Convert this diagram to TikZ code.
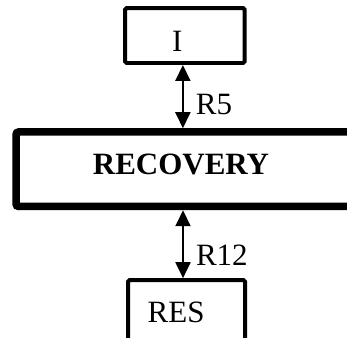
\documentclass[tikz,border=0pt]{standalone}
\usepackage{fontspec}
\setmainfont{Liberation Serif}
\usetikzlibrary{arrows.meta, positioning}

\begin{document}
\begin{tikzpicture}[
      box/.style={rectangle, draw=black, line width=4pt, rounded corners=1.5pt, inner sep=0pt},
      bigbox/.style={box, line width=7.5pt, rounded corners=2.5pt},
      txt/.style={inner sep=0pt, font=\fontsize{31}{37}\selectfont},
      arr/.style={{Triangle[length=16pt,width=15pt]}-{Triangle[length=16pt,width=15pt]}, line width=2pt}
    ]
      \useasboundingbox (0, 0) rectangle (12.20, 11.85);

      \node[box, minimum width=4.20cm, minimum height=1.93cm] (I) at (6.50, 10.60) {};
      \node[bigbox, minimum width=12.09cm, minimum height=2.62cm] (REC) at (6.61, 5.90) {};
      \node[box, minimum width=4.11cm, minimum height=2.28cm] (RES) at (6.56, 0.86) {};

      \node[txt] (Itxt) at ([xshift=-7.5pt, yshift=-5.5pt]I.center) {I};
      \node[txt, font=\fontsize{31}{37}\selectfont\bfseries] (RECtxt) at ([xshift=-7pt, yshift=5pt]REC.center) {RECOVERY};
      \node[txt] (REStxt) at ([xshift=-10.5pt]RES.center) {RES};

      \draw[arr] ([xshift=-2pt]I.south) -- ([xshift=-2pt]I.south |- REC.north)
        node[txt, pos=0.63, right=12pt] (R5) {R5};
      \draw[arr] ([xshift=-5pt]REC.south) -- ([xshift=-5pt]REC.south |- RES.north)
        node[txt, pos=0.66, right=12pt] (R12) {R12};
    \end{tikzpicture}
\end{document}
